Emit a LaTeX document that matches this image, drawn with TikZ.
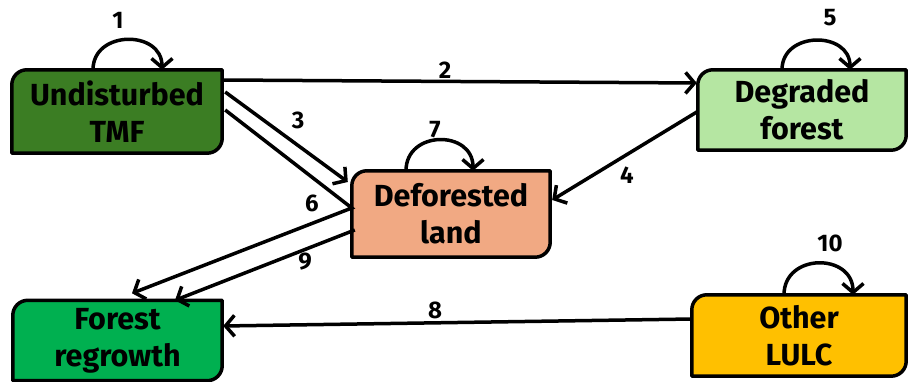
\documentclass[tikz,border=0pt]{standalone}
\usepackage{fontspec}
\setmainfont{Fira Sans}
\usetikzlibrary{arrows.meta,backgrounds}

\definecolor{undist}{HTML}{3B7D23}
\definecolor{degraded}{HTML}{B5E6A2}
\definecolor{deforest}{HTML}{F1A983}
\definecolor{regrow}{HTML}{00B050}
\definecolor{otherlulc}{HTML}{FFC000}

\tikzset{
  stateb/.style={inner sep=0pt, align=center,
    font=\fontsize{30.5}{37}\selectfont\bfseries},
  boxline/.style={line width=3.5pt, line join=round},
  conn/.style={line width=3.5pt, -{Straight Barb[length=9pt,width=21pt,line width=3.5pt]}},
  selfloop/.style={line width=3.5pt, -{Straight Barb[length=9pt,width=21pt,line width=3.5pt]}},
  numlbl/.style={font=\fontsize{24}{26}\selectfont\bfseries, inner sep=0pt}
}

% box with rounded top-left and bottom-right corners
\newcommand\cutbox[2]{%
  \draw[boxline, fill=#2] (#1.south west) -- ([yshift=-15pt]#1.north west)
    arc[start angle=180, end angle=90, radius=15pt] -- (#1.north east)
    -- ([yshift=15pt]#1.south east)
    arc[start angle=0, end angle=-90, radius=15pt] -- cycle;}

\begin{document}
\begin{tikzpicture}[x=1pt,y=1pt]
\useasboundingbox (0,0) rectangle (908,382);

% states
\node[stateb, minimum width=210pt, minimum height=83pt] (tmf) at (117,270.5) {Undisturbed\\TMF};
\node[stateb, minimum width=208pt, minimum height=80pt] (deg) at (802,272) {Degraded\\forest};
\node[stateb, minimum width=198pt, minimum height=86pt] (def) at (451,168) {Deforested\\land};
\node[stateb, minimum width=209pt, minimum height=80pt] (reg) at (117.5,41.5) {Forest\\regrowth};
\node[stateb, minimum width=214pt, minimum height=81pt] (oth) at (799,46.5) {Other\\LULC};

\begin{scope}[on background layer]
  \cutbox{tmf}{undist}
  \cutbox{deg}{degraded}
  \cutbox{def}{deforest}
  \cutbox{reg}{regrow}
  \cutbox{oth}{otherlulc}
\end{scope}

% transitions
\draw[conn] ([yshift=31.5pt]tmf.east) -- ([shift={(-1pt,27pt)}]deg.west);
\draw[conn] ([shift={(3pt,19.5pt)}]tmf.east) -- ([shift={(-4pt,32pt)}]def.west);
\coordinate (bend) at ([yshift=6pt]def.west);
\draw[conn] ([shift={(3pt,1.5pt)}]tmf.east) -- (bend) -- ([shift={(14.5pt,7pt)}]reg.north);
\draw[conn] ([shift={(3pt,-16pt)}]def.west) -- ([shift={(57.5pt,0pt)}]reg.north);
\draw[conn] ([shift={(-1pt,-2pt)}]deg.west) -- ([shift={(2pt,14pt)}]def.east);
\draw[conn] ([shift={(1pt,16.5pt)}]oth.west) -- ([shift={(1pt,14.5pt)}]reg.east);

% persistence loops
\draw[selfloop] ([xshift=-24pt]tmf.north) .. controls +(0,40) and +(0,40) .. ([xshift=45pt]tmf.north);
\draw[selfloop] ([xshift=-20pt]deg.north) .. controls +(0,39) and +(0,39) .. ([xshift=48pt]deg.north);
\draw[selfloop] ([xshift=-45pt]def.north) .. controls +(0,41) and +(0,41) .. ([xshift=22pt]def.north);
\draw[selfloop] ([xshift=-15pt]oth.north) .. controls +(0,42) and +(0,42) .. ([xshift=54pt]oth.north);

% transition numbers
\node[numlbl] (n1) at (118,362) {1};
\node[numlbl] (n2) at (445,312) {2};
\node[numlbl] (n3) at (298,262) {3};
\node[numlbl] (n4) at (627,207) {4};
\node[numlbl] (n5) at (830,364) {5};
\node[numlbl] (n6) at (312,179) {6};
\node[numlbl] (n7) at (435,252) {7};
\node[numlbl] (n8) at (435,72) {8};
\node[numlbl] (n9) at (305,120) {9};
\node[numlbl] (n10) at (830,139) {10};
\end{tikzpicture}
\end{document}
